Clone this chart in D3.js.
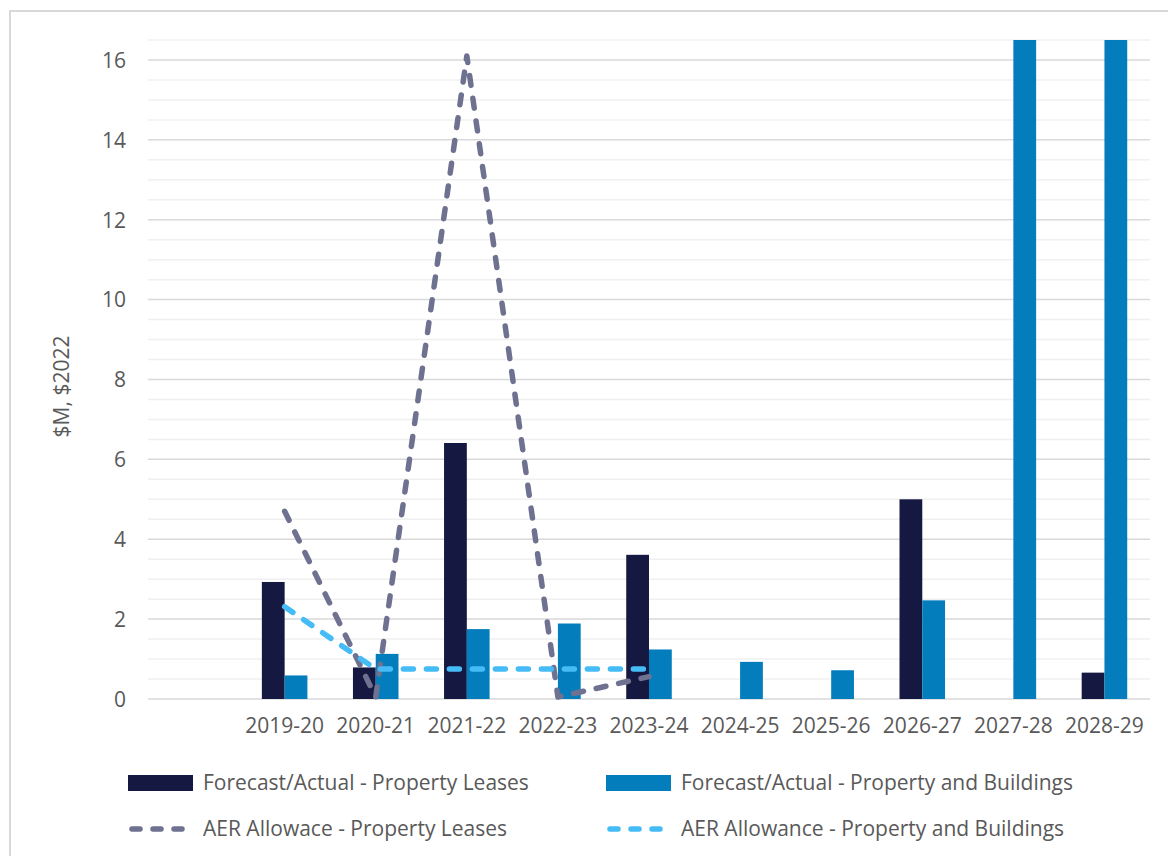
<!DOCTYPE html>
<html><head><meta charset="utf-8">
<script src="https://cdn.jsdelivr.net/npm/d3@7"></script>
<style>
html,body{margin:0;padding:0;background:#fff;}
svg text{font-family:"Open Sans",sans-serif;fill:#595959;}
</style></head>
<body><svg id="c" width="1168" height="856"></svg>
<script>
const categories = ["", "2019-20","2020-21","2021-22","2022-23","2023-24","2024-25","2025-26","2026-27","2027-28","2028-29"];
const leasesActual = [null, 2.93, 0.79, 6.41, null, 3.61, null, null, 5.0, null, 0.66];
const buildingsActual = [null, 0.59, 1.13, 1.75, 1.89, 1.24, 0.93, 0.72, 2.47, 16.5, 16.5];
const leasesAllowance = [null, 4.7, 0.05, 16.1, 0.05, 0.56, null, null, null, null, null];
const buildingsAllowance = [null, 2.31, 0.75, 0.75, 0.75, 0.75, null, null, null, null, null];
const yTicks = [0, 2, 4, 6, 8, 10, 12, 14, 16];
const seriesNames = ["Forecast/Actual - Property Leases", "Forecast/Actual - Property and Buildings",
                     "AER Allowace - Property Leases", "AER Allowance - Property and Buildings"];
const colors = ["#151841", "#047dbd", "#6f7190", "#45bcf5"];

const svg = d3.select("#c");
const L = 148, R = 1150, T = 40, B = 699;
const FS = "21px";

// outer border
svg.append("rect").attr("x",10).attr("y",11).attr("width",1170).attr("height",860)
  .attr("fill","none").attr("stroke","#d9d9d9").attr("stroke-width",2);

const x0 = d3.scaleBand().domain(categories.map((c,i)=>i)).range([L,R]).paddingInner(0.5).paddingOuter(0.25);
const x1 = d3.scaleBand().domain([0,1]).range([0,x0.bandwidth()]);
const y = d3.scaleLinear().domain([0,16.5]).range([B,T]);

// minor grid
const minor = d3.range(0.5, 16.51, 0.5).filter(v => v % 2 !== 0);
svg.append("g").selectAll("line").data(minor).join("line")
  .attr("x1",L).attr("x2",R).attr("y1",d=>y(d)).attr("y2",d=>y(d))
  .attr("stroke","#f0f0f0").attr("stroke-width",1.5);
svg.append("g").selectAll("line").data(yTicks).join("line")
  .attr("x1",L).attr("x2",R).attr("y1",d=>y(d)).attr("y2",d=>y(d))
  .attr("stroke","#d9d9d9").attr("stroke-width",1.5);

// y axis labels
const yAxis = svg.append("g").attr("transform",`translate(${L},0)`)
  .call(d3.axisLeft(y).tickValues(yTicks).tickSize(0).tickPadding(22));
yAxis.select(".domain").remove();
yAxis.selectAll("text").style("font-size",FS).attr("fill","#595959").attr("dy","0.35em");

// x axis labels
const xAxis = svg.append("g").attr("transform",`translate(0,${B})`)
  .call(d3.axisBottom(x0).tickFormat(i=>categories[i]).tickSize(0).tickPadding(19));
xAxis.select(".domain").remove();
xAxis.selectAll("text").style("font-size",FS).attr("fill","#595959");

// y title
svg.append("text").attr("transform",`translate(69,${(T+B)/2+17}) rotate(-90)`)
  .attr("text-anchor","middle").style("font-size",FS).text("$M, $2022");

// bars
const barSeries = [leasesActual, buildingsActual];
barSeries.forEach((vals, s) => {
  svg.append("g").selectAll("rect").data(vals.map((v,i)=>({v,i})).filter(d=>d.v!=null)).join("rect")
    .attr("x", d => x0(d.i) + x1(s))
    .attr("width", x1.bandwidth())
    .attr("y", d => y(d.v))
    .attr("height", d => B - y(d.v))
    .attr("fill", colors[s]);
});

// lines
const lineSeries = [leasesAllowance, buildingsAllowance];
const line = d3.line().defined(d=>d.v!=null).x(d=>x0(d.i)+x0.bandwidth()/2).y(d=>y(d.v));
lineSeries.forEach((vals, s) => {
  svg.append("path").datum(vals.map((v,i)=>({v,i})))
    .attr("d", line).attr("fill","none")
    .attr("stroke", colors[s+2]).attr("stroke-width",5.5)
    .attr("stroke-dasharray","10,13").attr("stroke-linecap","round").attr("stroke-linejoin","round");
});

// legend
const legendPos = [[128,783],[606,783],[128,829],[606,829]];
seriesNames.forEach((name, k) => {
  const [lx, ly] = legendPos[k];
  const g = svg.append("g");
  if (k < 2) {
    g.append("rect").attr("x",lx).attr("y",ly-8).attr("width",65).attr("height",16).attr("fill",colors[k]);
  } else {
    g.append("line").attr("x1",lx+4).attr("x2",lx+62).attr("y1",ly).attr("y2",ly)
      .attr("stroke",colors[k]).attr("stroke-width",5.5).attr("stroke-dasharray","8,13").attr("stroke-linecap","round");
  }
  g.append("text").attr("x",lx+75).attr("y",ly).attr("dy","0.35em").style("font-size",FS).text(name);
});
</script></body></html>
